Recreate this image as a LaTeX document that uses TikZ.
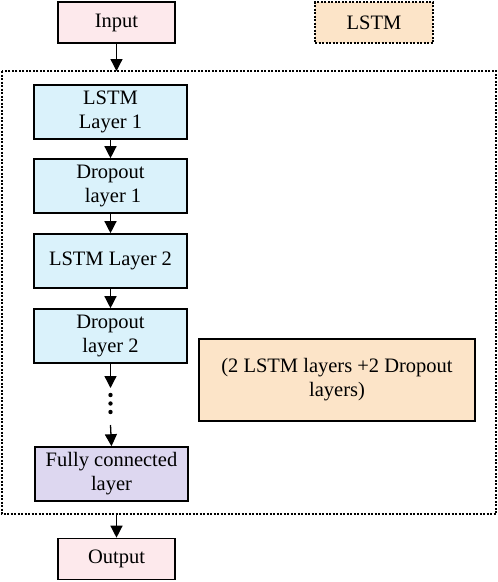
\documentclass[tikz,border=0pt]{standalone}
\usepackage{fontspec}
\setmainfont{Liberation Serif}
\usetikzlibrary{arrows.meta}
\definecolor{pinkfill}{HTML}{FDE9EC}
\definecolor{bluefill}{HTML}{DAF2FB}
\definecolor{lavfill}{HTML}{DDD7F0}
\definecolor{orangefill}{HTML}{FCE4C8}
\begin{document}
\begin{tikzpicture}[x=1pt,y=-1pt,
  box/.style={draw=black, line width=1.6pt, align=center, inner sep=0pt,
    font=\fontsize{20.5}{24}\selectfont},
  io/.style={box, fill=pinkfill, minimum width=117pt, minimum height=41pt},
  layerbox/.style={box, fill=bluefill, minimum width=153pt, minimum height=54pt},
  fcbox/.style={box, fill=lavfill, minimum width=153pt, minimum height=54pt},
  legendbox/.style={box, fill=orangefill, dash pattern=on 2pt off 1.5pt, minimum width=118pt, minimum height=41pt},
  notebox/.style={box, fill=orangefill, minimum width=276pt, minimum height=82pt},
  arr/.style={-{Triangle[width=12pt,length=12pt]}, line width=1.3pt}]
\useasboundingbox (0,0) rectangle (498,582);
\draw[line width=1.5pt, dash pattern=on 2pt off 1.5pt] (2,71) rectangle (496,514);
\coordinate (topin) at (116.5,71);
\coordinate (botout) at (116.5,514);
\node[io] (input) at (116.5,22.5) {Input};
\node[legendbox] (legend) at (374,22.5) {LSTM};
\node[layerbox] (l1) at (110.5,112) {LSTM\\Layer 1};
\node[layerbox] (d1) at (110.5,186) {Dropout\\\ layer 1};
\node[layerbox] (l2) at (110.5,261) {LSTM Layer 2};
\node[layerbox] (d2) at (110.5,336) {Dropout\\layer 2};
\node[inner sep=0pt, minimum width=5pt, minimum height=24pt] (dots) at (110.5,403) {};
\foreach \yy in {395,403.5,412} \fill (110.5,\yy) circle (2.2pt);
\node[fcbox] (fc) at (111.5,474) {Fully connected\\layer};
\node[io] (output) at (116.5,559) {Output};
\node[notebox] (note) at (337,380) {(2 LSTM layers +2 Dropout\\layers)};
\draw[arr] (input.south) -- (topin);
\draw[arr] (l1) -- (d1);
\draw[arr] (d1) -- (l2);
\draw[arr] (l2) -- (d2);
\draw[arr] (d2.south) -- (110.5,388);
\draw[arr] (110.5,425) -- (fc.north);
\draw[arr] (botout) -- (output.north);
\end{tikzpicture}
\end{document}
